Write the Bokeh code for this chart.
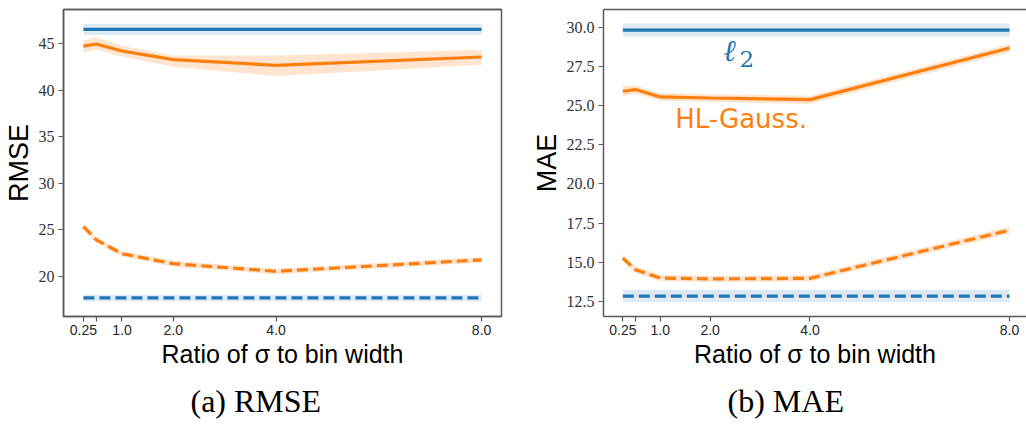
from bokeh.plotting import figure
from bokeh.models import ColumnDataSource, Range1d, FixedTicker, LinearAxis, Title
from bokeh.layouts import row
from bokeh.core.properties import value
from bokeh.embed import file_html
from bokeh.resources import INLINE

# ---------------- data ----------------
sigma = [0.25, 0.5, 1.0, 2.0, 4.0, 8.0]
x_ticks = [0.25, 0.5, 1.0, 2.0, 4.0, 8.0]
x_tick_labels = ["0.25", "", "1.0", "2.0", "4.0", "8.0"]

# RMSE panel
rmse_l2_test = [46.5, 46.5, 46.5, 46.5, 46.5, 46.5]
rmse_l2_test_lo = [45.9, 45.9, 45.9, 45.9, 45.9, 45.9]
rmse_l2_test_hi = [47.1, 47.1, 47.1, 47.1, 47.1, 47.1]
rmse_hl_test = [44.7, 44.93, 44.18, 43.26, 42.65, 43.54]
rmse_hl_test_lo = [44.0, 44.35, 43.6, 42.5, 41.5, 42.7]
rmse_hl_test_hi = [45.3, 45.65, 44.75, 43.7, 43.7, 44.3]
rmse_hl_train = [25.37, 23.95, 22.46, 21.39, 20.57, 21.8]
rmse_hl_train_lo = [25.05, 23.65, 22.15, 21.05, 20.25, 21.5]
rmse_hl_train_hi = [25.65, 24.25, 22.75, 21.7, 20.85, 22.1]
rmse_l2_train = [17.72, 17.72, 17.72, 17.72, 17.72, 17.72]
rmse_l2_train_lo = [17.35, 17.35, 17.35, 17.35, 17.35, 17.35]
rmse_l2_train_hi = [18.05, 18.05, 18.05, 18.05, 18.05, 18.05]
rmse_ticks = [20, 25, 30, 35, 40, 45]
rmse_tick_labels = ["20", "25", "30", "35", "40", "45"]

# MAE panel
mae_l2_test = [29.81, 29.81, 29.81, 29.81, 29.81, 29.81]
mae_l2_test_lo = [29.4, 29.4, 29.4, 29.4, 29.4, 29.4]
mae_l2_test_hi = [30.24, 30.24, 30.24, 30.24, 30.24, 30.24]
mae_hl_test = [25.91, 26.02, 25.55, 25.48, 25.38, 28.67]
mae_hl_test_lo = [25.6, 25.75, 25.3, 25.22, 25.1, 28.4]
mae_hl_test_hi = [26.23, 26.3, 25.8, 25.72, 25.62, 28.92]
mae_hl_train = [15.27, 14.53, 14.0, 13.94, 13.98, 17.05]
mae_hl_train_lo = [15.05, 14.32, 13.8, 13.74, 13.78, 16.82]
mae_hl_train_hi = [15.5, 14.75, 14.2, 14.14, 14.18, 17.28]
mae_l2_train = [12.84, 12.84, 12.84, 12.84, 12.84, 12.84]
mae_l2_train_lo = [12.45, 12.45, 12.45, 12.45, 12.45, 12.45]
mae_l2_train_hi = [13.25, 13.25, 13.25, 13.25, 13.25, 13.25]
mae_ticks = [12.5, 15.0, 17.5, 20.0, 22.5, 25.0, 27.5, 30.0]
mae_tick_labels = ["12.5", "15.0", "17.5", "20.0", "22.5", "25.0", "27.5", "30.0"]

x_label = "Ratio of σ to bin width"
captions = ["(a) RMSE", "(b) MAE"]
y_labels = ["RMSE", "MAE"]

BLUE = "#1f77b4"
ORANGE = "#ff7f0e"
SPINE = "#5a5a5a"


def make_panel(series, y_range, x_end, yticks, ylabels, ylabel, caption,
               border_left, border_right, full_box, caption_offset):
    p = figure(width=513, height=432,
               x_range=Range1d(-0.1375, x_end), y_range=Range1d(*y_range),
               output_backend="svg", toolbar_location=None,
               min_border_left=border_left, min_border_right=border_right,
               min_border_top=9, min_border_bottom=115)
    if full_box:
        p.outline_line_color = SPINE
        p.outline_line_width = 1.5
        p.outline_line_alpha = 1.0
    else:
        p.outline_line_color = None
    p.grid.visible = False
    p.background_fill_color = "white"
    p.border_fill_color = "white"

    for (yv, lo, hi, color, dash, balpha) in series:
        src = ColumnDataSource(dict(x=sigma, y=yv, lo=lo, hi=hi))
        p.varea(x="x", y1="lo", y2="hi", source=src, fill_color=color, fill_alpha=balpha)
        p.line(x="x", y="y", source=src, line_color=color, line_width=3.2,
               line_dash=dash, line_cap="butt")

    # x axis
    xa = p.below[0]
    xa.ticker = FixedTicker(ticks=x_ticks)
    xa.major_label_overrides = {t: l for t, l in zip(x_ticks, x_tick_labels)}
    xa.minor_tick_line_color = None
    xa.major_tick_out = 5
    xa.major_tick_in = 0
    xa.major_label_standoff = 3
    xa.major_label_text_font = "Liberation Sans"
    xa.major_label_text_font_size = "14px"
    xa.major_label_text_color = "#262626"
    xa.axis_line_color = SPINE
    xa.axis_line_width = 1.5
    xa.major_tick_line_color = SPINE
    xa.major_tick_line_width = 1.2

    # y axis
    ya = p.left[0]
    ya.ticker = FixedTicker(ticks=yticks)
    ya.major_label_overrides = {t: l for t, l in zip(yticks, ylabels)}
    ya.minor_tick_line_color = None
    ya.major_tick_out = 5
    ya.major_tick_in = 0
    ya.major_label_standoff = 4
    ya.major_label_text_font = "Liberation Serif"
    ya.major_label_text_font_size = "16px"
    ya.major_label_text_color = "#333333"
    ya.axis_line_color = SPINE
    ya.axis_line_width = 1.5
    ya.major_tick_line_color = SPINE
    ya.major_tick_line_width = 1.2
    ya.axis_label = ylabel
    ya.axis_label_text_font = "Liberation Sans"
    ya.axis_label_text_font_size = "27px"
    ya.axis_label_text_font_style = "normal"
    ya.axis_label_text_color = "black"
    ya.axis_label_standoff = 2

    # top spine (same panel structure for both figures)
    top = LinearAxis(ticker=FixedTicker(ticks=[]), axis_line_color=SPINE, axis_line_width=1.5,
                     major_tick_out=0, major_tick_in=0, minor_tick_out=0, minor_tick_in=0,
                     major_label_standoff=0, major_label_text_font_size="0px",
                     axis_label_standoff=0, axis_label_text_font_size="0px")
    p.add_layout(top, "above")

    p.add_layout(Title(text=x_label, align="center",
                       text_font="Liberation Sans", text_font_size="25px",
                       text_font_style="normal", text_color="black", standoff=0), "below")
    p.add_layout(Title(text=caption, align="left", offset=caption_offset,
                       text_font="Liberation Serif", text_font_size="32px",
                       text_font_style="normal", text_color="black", standoff=27), "below")
    return p


left_series = [
    (rmse_l2_test, rmse_l2_test_lo, rmse_l2_test_hi, BLUE, "solid", 0.15),
    (rmse_hl_test, rmse_hl_test_lo, rmse_hl_test_hi, ORANGE, "solid", 0.2),
    (rmse_hl_train, rmse_hl_train_lo, rmse_hl_train_hi, ORANGE, "11 5", 0.2),
    (rmse_l2_train, rmse_l2_train_lo, rmse_l2_train_hi, BLUE, "11 5", 0.15),
]
right_series = [
    (mae_l2_test, mae_l2_test_lo, mae_l2_test_hi, BLUE, "solid", 0.15),
    (mae_hl_test, mae_hl_test_lo, mae_hl_test_hi, ORANGE, "solid", 0.2),
    (mae_hl_train, mae_hl_train_lo, mae_hl_train_hi, ORANGE, "11 5", 0.2),
    (mae_l2_train, mae_l2_train_lo, mae_l2_train_hi, BLUE, "11 5", 0.15),
]

p1 = make_panel(left_series, (15.73, 48.63), 8.3875, rmse_ticks, rmse_tick_labels,
                y_labels[0], captions[0], 63, 12, True, 127)
p2 = make_panel(right_series, (11.545, 31.126), 8.34, mae_ticks, mae_tick_labels,
                y_labels[1], captions[1], 90, 0, False, 124)

# annotations in MAE panel
ann_main = ColumnDataSource(dict(x=[2.26], y=[28.5], t=["ℓ"]))
ann_sub = ColumnDataSource(dict(x=[2.59], y=[27.95], t=["2"]))
ann_hl = ColumnDataSource(dict(x=[1.298], y=[24.15], t=["HL-Gauss."]))
p2.text(x="x", y="y", text="t", source=ann_main, text_color=BLUE,
        text_font=value("DejaVu Serif"), text_font_style="italic",
        text_font_size=value("30px"), text_align="left", text_baseline="alphabetic")
p2.text(x="x", y="y", text="t", source=ann_sub, text_color=BLUE,
        text_font=value("DejaVu Serif"), text_font_size=value("23px"),
        text_align="left", text_baseline="alphabetic")
p2.text(x="x", y="y", text="t", source=ann_hl, text_color=ORANGE,
        text_font=value("DejaVu Sans"), text_font_size=value("26px"),
        text_align="left", text_baseline="alphabetic")

layout = row(p1, p2, spacing=0)
open("out.html", "w").write(file_html(layout, INLINE))
